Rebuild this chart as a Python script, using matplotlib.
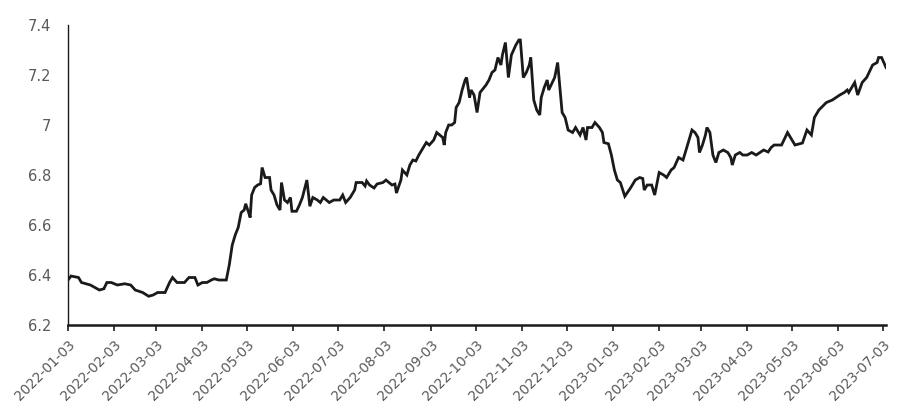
import matplotlib
matplotlib.use("Agg")
import matplotlib.pyplot as plt
import matplotlib.dates as mdates
import matplotlib.ticker as mticker
import pandas as pd

# --- Data ---
dates = [
    "2022-01-03", "2022-01-05", "2022-01-10", "2022-01-12", "2022-01-18", "2022-01-21",
    "2022-01-24", "2022-01-27", "2022-01-29", "2022-02-01", "2022-02-05", "2022-02-10",
    "2022-02-14", "2022-02-17", "2022-02-22", "2022-02-26", "2022-03-01", "2022-03-04",
    "2022-03-09", "2022-03-12", "2022-03-14", "2022-03-17", "2022-03-22", "2022-03-25",
    "2022-03-29", "2022-03-31", "2022-04-03", "2022-04-06", "2022-04-09", "2022-04-11",
    "2022-04-14", "2022-04-17", "2022-04-19", "2022-04-21", "2022-04-23", "2022-04-25",
    "2022-04-27", "2022-04-29", "2022-05-01", "2022-05-02", "2022-05-04", "2022-05-05",
    "2022-05-06", "2022-05-08", "2022-05-10", "2022-05-12", "2022-05-13", "2022-05-15",
    "2022-05-18", "2022-05-19", "2022-05-21", "2022-05-23", "2022-05-25", "2022-05-26",
    "2022-05-28", "2022-05-30", "2022-06-01", "2022-06-02", "2022-06-05", "2022-06-07",
    "2022-06-09", "2022-06-12", "2022-06-14", "2022-06-16", "2022-06-19", "2022-06-21",
    "2022-06-23", "2022-06-27", "2022-06-30", "2022-07-04", "2022-07-06", "2022-07-08",
    "2022-07-11", "2022-07-14", "2022-07-15", "2022-07-19", "2022-07-21", "2022-07-22",
    "2022-07-24", "2022-07-27", "2022-07-29", "2022-08-02", "2022-08-04", "2022-08-08",
    "2022-08-10", "2022-08-11", "2022-08-14", "2022-08-15", "2022-08-18", "2022-08-20",
    "2022-08-22", "2022-08-24", "2022-08-26", "2022-08-29", "2022-08-31", "2022-09-02",
    "2022-09-05", "2022-09-07", "2022-09-09", "2022-09-11", "2022-09-12", "2022-09-13",
    "2022-09-15", "2022-09-17", "2022-09-19", "2022-09-20", "2022-09-22", "2022-09-24",
    "2022-09-26", "2022-09-27", "2022-09-29", "2022-09-30", "2022-10-02", "2022-10-04",
    "2022-10-06", "2022-10-10", "2022-10-12", "2022-10-14", "2022-10-16", "2022-10-18",
    "2022-10-20", "2022-10-21", "2022-10-23", "2022-10-25", "2022-10-27", "2022-10-30",
    "2022-11-01", "2022-11-02", "2022-11-04", "2022-11-06", "2022-11-08", "2022-11-09",
    "2022-11-11", "2022-11-13", "2022-11-15", "2022-11-16", "2022-11-18", "2022-11-20",
    "2022-11-21", "2022-11-25", "2022-11-27", "2022-11-30", "2022-12-02", "2022-12-04",
    "2022-12-07", "2022-12-09", "2022-12-12", "2022-12-14", "2022-12-16", "2022-12-17",
    "2022-12-20", "2022-12-22", "2022-12-25", "2022-12-27", "2022-12-28", "2022-12-31",
    "2023-01-02", "2023-01-04", "2023-01-06", "2023-01-08", "2023-01-11", "2023-01-15",
    "2023-01-18", "2023-01-21", "2023-01-23", "2023-01-24", "2023-01-26", "2023-01-29",
    "2023-01-31", "2023-02-03", "2023-02-06", "2023-02-08", "2023-02-11", "2023-02-13",
    "2023-02-16", "2023-02-19", "2023-02-22", "2023-02-23", "2023-02-25", "2023-02-27",
    "2023-03-01", "2023-03-02", "2023-03-04", "2023-03-06", "2023-03-07", "2023-03-09",
    "2023-03-11", "2023-03-13", "2023-03-15", "2023-03-18", "2023-03-21", "2023-03-23",
    "2023-03-24", "2023-03-26", "2023-03-29", "2023-03-31", "2023-04-03", "2023-04-06",
    "2023-04-09", "2023-04-11", "2023-04-14", "2023-04-17", "2023-04-19", "2023-04-21",
    "2023-04-23", "2023-04-26", "2023-04-30", "2023-05-05", "2023-05-10", "2023-05-13",
    "2023-05-16", "2023-05-18", "2023-05-21", "2023-05-26", "2023-05-30", "2023-06-04",
    "2023-06-07", "2023-06-09", "2023-06-10", "2023-06-14", "2023-06-16", "2023-06-19",
    "2023-06-22", "2023-06-26", "2023-06-29", "2023-06-30", "2023-07-02", "2023-07-05",
]
rates = [
    6.380, 6.396, 6.390, 6.370, 6.360, 6.350,
    6.340, 6.345, 6.370, 6.370, 6.360, 6.365,
    6.360, 6.340, 6.330, 6.315, 6.320, 6.330,
    6.330, 6.370, 6.390, 6.370, 6.370, 6.390,
    6.390, 6.360, 6.370, 6.370, 6.380, 6.385,
    6.380, 6.380, 6.380, 6.440, 6.520, 6.560,
    6.590, 6.650, 6.660, 6.685, 6.650, 6.630,
    6.720, 6.750, 6.760, 6.765, 6.830, 6.790,
    6.790, 6.740, 6.720, 6.680, 6.660, 6.770,
    6.700, 6.690, 6.710, 6.655, 6.655, 6.680,
    6.710, 6.780, 6.675, 6.710, 6.700, 6.690,
    6.710, 6.690, 6.700, 6.700, 6.720, 6.690,
    6.710, 6.740, 6.770, 6.770, 6.756, 6.776,
    6.760, 6.748, 6.764, 6.770, 6.780, 6.760,
    6.764, 6.728, 6.780, 6.820, 6.800, 6.840,
    6.860, 6.856, 6.880, 6.910, 6.930, 6.920,
    6.940, 6.970, 6.960, 6.950, 6.920, 6.970,
    7.000, 7.000, 7.010, 7.070, 7.090, 7.140,
    7.180, 7.190, 7.110, 7.140, 7.120, 7.050,
    7.130, 7.160, 7.180, 7.210, 7.220, 7.270,
    7.240, 7.280, 7.330, 7.190, 7.280, 7.320,
    7.340, 7.340, 7.190, 7.210, 7.240, 7.270,
    7.100, 7.060, 7.040, 7.110, 7.150, 7.180,
    7.140, 7.190, 7.250, 7.050, 7.030, 6.980,
    6.970, 6.990, 6.960, 6.990, 6.940, 6.990,
    6.990, 7.010, 6.990, 6.970, 6.930, 6.925,
    6.880, 6.820, 6.780, 6.770, 6.715, 6.750,
    6.780, 6.790, 6.786, 6.740, 6.760, 6.760,
    6.720, 6.810, 6.800, 6.790, 6.820, 6.830,
    6.870, 6.860, 6.920, 6.940, 6.980, 6.970,
    6.950, 6.890, 6.920, 6.960, 6.990, 6.970,
    6.880, 6.850, 6.890, 6.900, 6.890, 6.870,
    6.840, 6.880, 6.890, 6.880, 6.880, 6.890,
    6.880, 6.888, 6.900, 6.892, 6.910, 6.920,
    6.920, 6.920, 6.970, 6.920, 6.928, 6.980,
    6.960, 7.030, 7.060, 7.090, 7.100, 7.120,
    7.130, 7.140, 7.130, 7.170, 7.120, 7.170,
    7.190, 7.240, 7.250, 7.270, 7.270, 7.230,
]
# monthly ticks on the 3rd of each month
tick_dates = pd.date_range("2022-01-01", "2023-07-01", freq="MS") + pd.Timedelta(days=2)

x = pd.to_datetime(dates)

fig = plt.figure(figsize=(9, 4.17), dpi=100)
ax = fig.add_axes([0.0756, 0.2206, 0.9089, 0.7194])

ax.plot(x, rates, color="#1a1a1a", linewidth=2.0, solid_joinstyle="miter")

ax.set_xlim(pd.Timestamp("2022-01-03"), pd.Timestamp("2023-07-05"))
ax.set_ylim(6.2, 7.4)
ax.set_yticks([6.2, 6.4, 6.6, 6.8, 7.0, 7.2, 7.4])
ax.yaxis.set_major_formatter(mticker.FuncFormatter(lambda v, p: f"{v:g}"))

ax.set_xticks(tick_dates)
ax.xaxis.set_major_formatter(mdates.DateFormatter("%Y-%m-%d"))
for lbl in ax.get_xticklabels():
    lbl.set_rotation(45)
    lbl.set_ha("right")
    lbl.set_va("top")
    lbl.set_rotation_mode("anchor")

ax.tick_params(axis="x", direction="out", length=4, width=1.2, color="#1a1a1a",
               labelsize=9.8, labelcolor="#595959", pad=5)
ax.tick_params(axis="y", length=0, labelsize=10.5, labelcolor="#595959", pad=12)

for side in ["top", "right"]:
    ax.spines[side].set_visible(False)
ax.spines["left"].set_color("#1a1a1a")
ax.spines["left"].set_linewidth(1.0)
ax.spines["bottom"].set_color("#1a1a1a")
ax.spines["bottom"].set_linewidth(1.8)

fig.savefig("out.png", dpi=100)
